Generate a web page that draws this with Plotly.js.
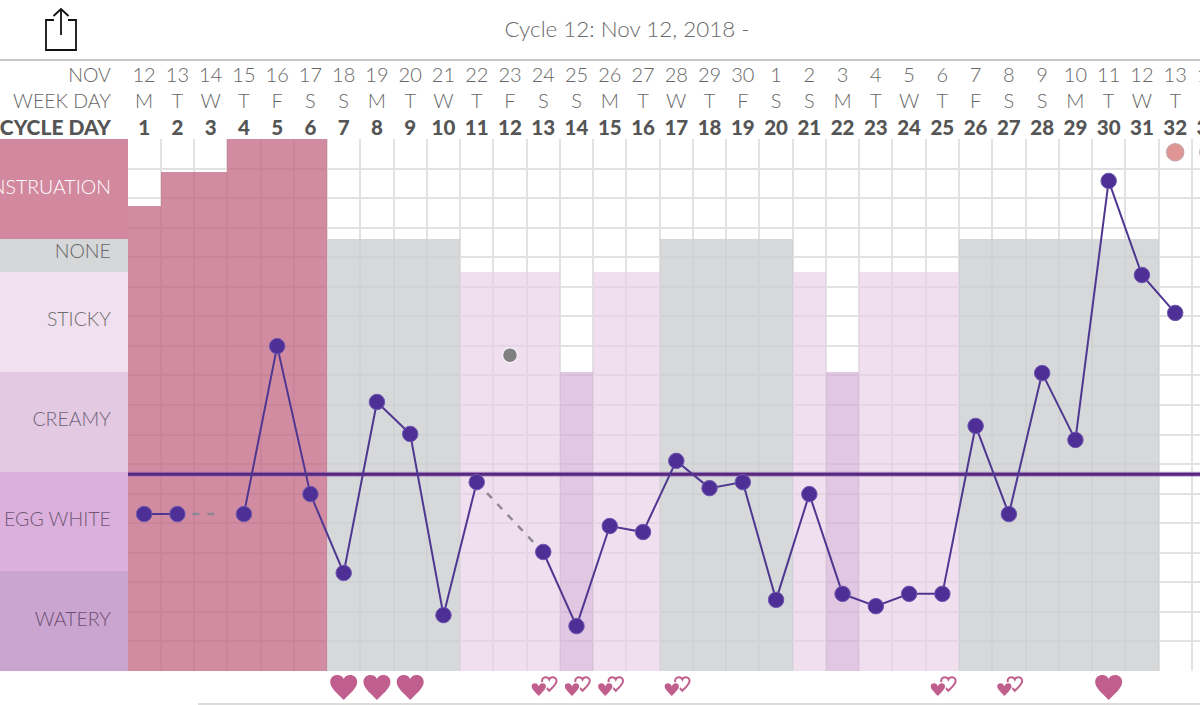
<!DOCTYPE html>
<html><head><meta charset="utf-8">
<script src="https://cdn.plot.ly/plotly-3.0.1.min.js"></script>
<style>html,body{margin:0;padding:0;background:#fff;overflow:hidden;width:1200px;height:705px}#c{width:1240px;height:705px}</style>
</head><body><div id="c"></div>
<script>
// ---- data ----
const cycleDays = [1,2,3,4,5,6,7,8,9,10,11,12,13,14,15,16,17,18,19,20,21,22,23,24,25,26,27,28,29,30,31,32,33];
const dateLabels = ['12','13','14','15','16','17','18','19','20','21','22','23','24','25','26','27','28','29','30','1','2','3','4','5','6','7','8','9','10','11','12','13','14'];
const weekDays = ['M','T','W','T','F','S','S','M','T','W','T','F','S','S','M','T','W','T','F','S','S','M','T','W','T','F','S','S','M','T','W','T','F'];
const temps = [4.72,4.72,null,4.72,9.77,5.32,2.95,8.09,7.13,1.68,5.68,null,3.58,1.35,4.36,4.18,6.32,5.5,5.68,2.14,5.32,2.32,1.95,2.32,2.32,7.37,4.72,8.96,6.95,14.74,11.91,10.77];
const gapX = [2.45,3.35,null,11.31,12.7];
const gapY = [4.72,4.72,null,5.35,3.88];
const excludedDay = [12]; const excludedTemp = [9.5];
const coverLineX = [0.5,34]; const coverLineY = [5.92,5.92];
const flowDays = [1,2,3,4,5,6]; const flowHeights = [14,15,15,16,16,16];
const noneDays = [7,8,9,10,18,17,19,20,26,27,28,29,30,31]; const noneHeights = noneDays.map(()=>13);
const stickyDays = [11,12,13,15,16,21,23,24,25]; const stickyHeights = stickyDays.map(()=>12);
const creamyDays = [14,22]; const creamyHeights = creamyDays.map(()=>9);
const spotDays = [32,33]; const spotLevels = [15.6,15.6];
const bandNames = ['MENSTRUATION','NONE','STICKY','CREAMY','EGG WHITE','WATERY'];
const bandLow = [13,12,9,6,3,0];
const bandHigh = [16,13,12,9,6,3];
const bandLabelY = [14.5,12.56,10.53,7.52,4.51,1.5];
const bandColors = ['#d2899f','#d6d7d9','#f1e0ef','#e3c9e2','#dcb0dc','#caa5cf'];
const bandTextColors = ['#ffffff','#666666','#6e6e6e','#6e6478','#6f5876','#6a4f74'];
const headerNames = ['NOV','WEEK DAY','CYCLE DAY'];
const headerY = [17.86,17.08,16.28];
const loveDays = [7,8,9,30];
const doubleHeartDays = [13,14,15,17,25,27];
const loveRow = -0.496, filledHeartRow = -0.562, outlineHeartRow = -0.39;

// ---- geometry ----
const W = 1240, H = 705, cell = 33.26, left = 127.5;
const xMaxDay = 0.5 + (W-left)/cell;
const xMinPage = 0.5 - left/cell;
const rowPx = 33.25, bottomPx = 671, topPx = 139;
const px = x => x/W, py = y => 1 - y/H;
const fontFam = 'Lato, "Open Sans", sans-serif';
const grey = '#666666', heartColor = '#c05f8e';

function barTrace(x,y,color){return {type:'bar',x:x,y:y,width:1,marker:{color:color,line:{width:0}},xaxis:'x',yaxis:'y',hoverinfo:'skip',showlegend:false};}
const textRow = (x,y,text,size,color,weight,pos) => ({type:'scatter',mode:'text',x:x,y:y,text:text,xaxis:'x2',yaxis:'y2',
  textposition:pos||'middle center',textfont:{family:fontFam,size:size,color:color,weight:weight||300},hoverinfo:'skip',showlegend:false});

const traces = [
  barTrace(flowDays,flowHeights,'rgba(194,101,129,0.75)'),
  barTrace(noneDays,noneHeights,'rgba(204,206,209,0.8)'),
  barTrace(stickyDays,stickyHeights,'rgba(232,208,230,0.65)'),
  barTrace(creamyDays,creamyHeights,'rgba(212,175,212,0.7)'),
  {type:'bar',x:bandLow.map(()=> (xMinPage+0.5)/2),y:bandHigh.map((h,i)=>h-bandLow[i]),base:bandLow,width:0.5-xMinPage,
    marker:{color:bandColors,line:{width:0}},xaxis:'x2',yaxis:'y2',hoverinfo:'skip',showlegend:false},
  {type:'scatter',mode:'lines',x:coverLineX,y:coverLineY,line:{color:'rgba(150,105,190,0.6)',width:5},xaxis:'x',yaxis:'y',hoverinfo:'skip',showlegend:false},
  {type:'scatter',mode:'lines',x:coverLineX,y:coverLineY,line:{color:'#56277c',width:3},xaxis:'x',yaxis:'y',hoverinfo:'skip',showlegend:false},
  {type:'scatter',mode:'lines',x:gapX,y:gapY,line:{color:'#8f8896',width:2.5,dash:'7px,8px'},xaxis:'x',yaxis:'y',hoverinfo:'skip',showlegend:false},
  {type:'scatter',mode:'lines+markers',x:cycleDays.slice(0,temps.length),y:temps,connectgaps:false,
    line:{color:'#4f3791',width:2},marker:{color:'#4e2f96',size:15.5,line:{color:'#6f58b0',width:1}},xaxis:'x',yaxis:'y',hoverinfo:'skip',showlegend:false},
  {type:'scatter',mode:'markers',x:excludedDay,y:excludedTemp,marker:{color:'#808080',size:15,line:{color:'#f4ecf5',width:1.5}},xaxis:'x',yaxis:'y',hoverinfo:'skip',showlegend:false},
  {type:'scatter',mode:'markers',x:spotDays,y:spotLevels,marker:{color:'#e09494',size:17,line:{color:'#c9a3a3',width:1.5}},xaxis:'x',yaxis:'y',hoverinfo:'skip',showlegend:false},
  textRow(cycleDays,cycleDays.map(()=>headerY[0]),dateLabels,20,grey),
  textRow(cycleDays,cycleDays.map(()=>headerY[1]),weekDays,20,grey),
  textRow(cycleDays,cycleDays.map(()=>headerY[2]),cycleDays.map(String),20.5,'#555555',900),
  textRow([0,0],headerY.slice(0,2),headerNames.slice(0,2),19.5,grey,300,'middle left'),
  textRow([0],[headerY[2]],[headerNames[2]],21,'#555555',900,'middle left'),
  {type:'scatter',mode:'text',x:bandNames.map(()=>0),y:bandLabelY,text:bandNames,textposition:'middle left',
   textfont:{family:fontFam,size:19.5,color:bandTextColors,weight:300},xaxis:'x2',yaxis:'y2',hoverinfo:'skip',showlegend:false}
];

// heart path in pixels around an anchored data point (y up)
function heartPath(dx,dy,w,h){
  const X=v=>(dx+v*w/27).toFixed(2), Y=v=>(dy+v*h/25).toFixed(2);
  return `M ${X(0)} ${Y(-12.5)} C ${X(-5)} ${Y(-7)} ${X(-13.5)} ${Y(-1)} ${X(-13.5)} ${Y(5.5)} C ${X(-13.5)} ${Y(10)} ${X(-10)} ${Y(12.5)} ${X(-6.5)} ${Y(12.5)} C ${X(-3.5)} ${Y(12.5)} ${X(-1)} ${Y(11)} ${X(0)} ${Y(8.5)} C ${X(1)} ${Y(11)} ${X(3.5)} ${Y(12.5)} ${X(6.5)} ${Y(12.5)} C ${X(10)} ${Y(12.5)} ${X(13.5)} ${Y(10)} ${X(13.5)} ${Y(5.5)} C ${X(13.5)} ${Y(-1)} ${X(5)} ${Y(-7)} ${X(0)} ${Y(-12.5)} Z`;
}
const anchored = (day,row,path,fill,lineColor,lw) => ({type:'path',xref:'x2',yref:'y2',xsizemode:'pixel',ysizemode:'pixel',xanchor:day,yanchor:row,path:path,fillcolor:fill,line:{color:lineColor,width:lw}});
const heartShapes = [];
loveDays.forEach(d=>heartShapes.push(anchored(d,loveRow,heartPath(0,0,27,25),heartColor,'rgba(192,95,142,0)',0)));
doubleHeartDays.forEach(d=>{
  heartShapes.push(anchored(d,outlineHeartRow,heartPath(6,0,14.5,13.5),'rgba(255,255,255,0)',heartColor,2));
  heartShapes.push(anchored(d,filledHeartRow,heartPath(-4.5,0,15.5,14),heartColor,'#ffffff',1.2));
});

const pathOf = pts => pts.map(p=>p[0]+' '+px(p[1])+' '+py(p[2])).join(' ');
const iconStyle = {type:'path',xref:'paper',yref:'paper',line:{color:'#111',width:1.8}};
const layout = {
  width:W,height:H,margin:{l:0,r:0,t:0,b:0},paper_bgcolor:'#fff',plot_bgcolor:'rgba(0,0,0,0)',showlegend:false,barmode:'overlay',bargap:0,
  title:{text:'Cycle 12: Nov 12, 2018 -',x:px(627),y:py(29),xref:'paper',yref:'paper',xanchor:'center',yanchor:'middle',font:{family:fontFam,size:22.4,color:'#6a6a6a',weight:300}},
  xaxis:{domain:[px(left),1],range:[0.5,xMaxDay],tick0:0.5,dtick:1,showgrid:true,gridcolor:'#e2e2e2',gridwidth:2,zeroline:false,showticklabels:false,ticks:'',showline:false,anchor:'y'},
  yaxis:{domain:[py(bottomPx),py(topPx)],range:[0,16],tick0:0,dtick:16/18,showgrid:true,gridcolor:'#e2e2e2',gridwidth:2,zeroline:false,showticklabels:false,ticks:'',showline:false,anchor:'x'},
  xaxis2:{domain:[0,1],range:[xMinPage,xMaxDay],visible:false,anchor:'y2'},
  yaxis2:{domain:[0,1],range:[(bottomPx-H)/rowPx,bottomPx/rowPx],visible:false,anchor:'x2'},
  shapes:[
    {type:'line',xref:'paper',yref:'paper',x0:0,x1:1,y0:py(60),y1:py(60),line:{color:'#b5b5b5',width:1.5}},
    {type:'line',xref:'paper',yref:'paper',x0:px(198),x1:1,y0:py(704),y1:py(704),line:{color:'#d0d0d0',width:1.5}},
    Object.assign({},iconStyle,{path:pathOf([['M',54,20],['L',46,20],['L',46,50],['L',76,50],['L',76,20],['L',68,20]])}),
    Object.assign({},iconStyle,{path:pathOf([['M',61,35],['L',61,9]])}),
    Object.assign({},iconStyle,{path:pathOf([['M',53.5,16],['L',61,9],['L',68.5,16]])})
  ].concat(heartShapes)
};
Plotly.newPlot('c',traces,layout,{displayModeBar:false,staticPlot:true});
</script></body></html>
